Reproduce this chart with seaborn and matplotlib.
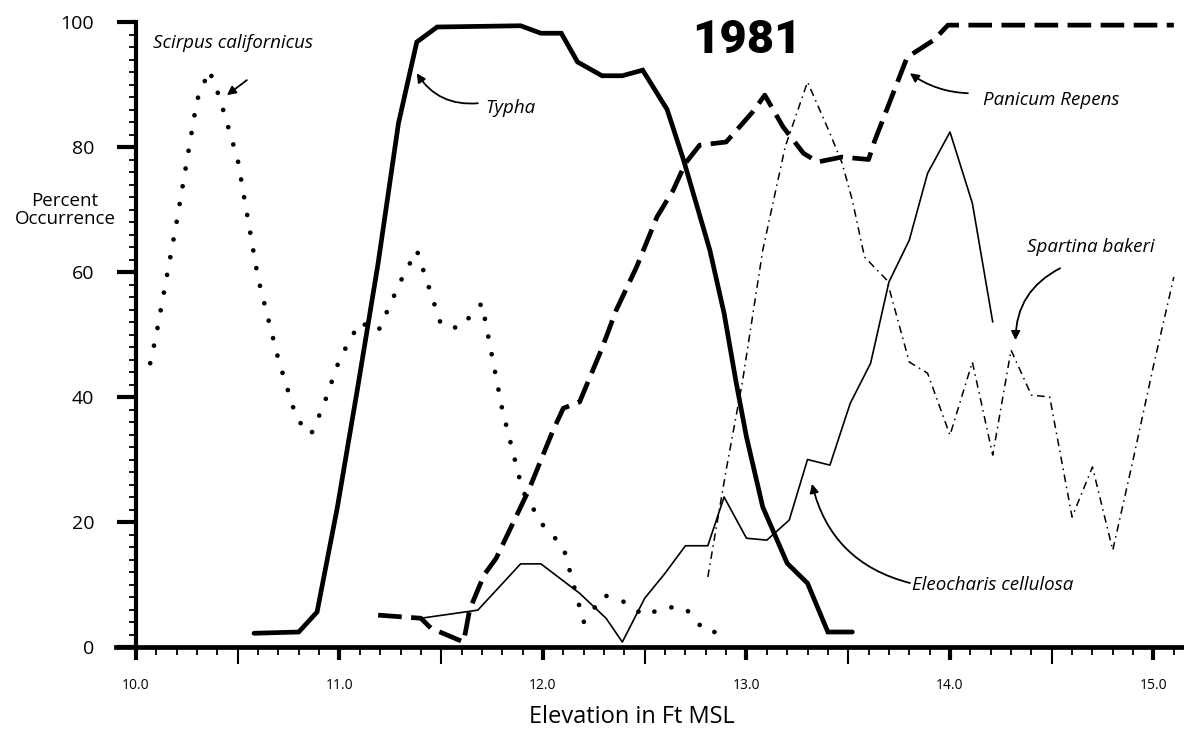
import numpy as np
import matplotlib
matplotlib.use("Agg")
import matplotlib.pyplot as plt
from matplotlib.ticker import FixedLocator, FormatStrFormatter
import seaborn as sns

# ---------------- data ----------------
scirpus_x = [10.07, 10.10, 10.20, 10.30, 10.36, 10.41, 10.50, 10.60, 10.70, 10.79,
             10.86, 10.92, 11.00, 11.10, 11.19, 11.30, 11.38, 11.50, 11.59, 11.70,
             11.80, 11.90, 12.00, 12.10, 12.20, 12.30, 12.40, 12.50, 12.60, 12.70,
             12.80, 12.90]
scirpus_y = [45.4, 50, 68, 87.5, 92.3, 88, 78, 59, 46, 36.5,
             34, 38.5, 46, 52, 50.5, 58.5, 63.5, 51.5, 51, 55,
             38, 25, 19.5, 16, 4, 8.3, 7.2, 5, 6.4, 6.2,
             2.4, 2.4]

typha_x = [10.58, 10.80, 10.89, 10.99, 11.09, 11.19, 11.29, 11.38, 11.48, 11.89,
           11.99, 12.09, 12.17, 12.29, 12.39, 12.49, 12.61, 12.69, 12.82, 12.89,
           12.95, 13.00, 13.08, 13.20, 13.30, 13.40, 13.52]
typha_y = [2.2, 2.4, 5.6, 22.4, 41.6, 61.4, 83.8, 96.8, 99.2, 99.4,
           98.2, 98.2, 93.6, 91.4, 91.4, 92.3, 86, 78, 63.5, 53.4,
           42.2, 33.6, 22.4, 13.4, 10.2, 2.4, 2.4]

panicum_x = [11.19, 11.40, 11.45, 11.61, 11.64, 11.71, 11.77, 11.82, 11.93, 12.05,
             12.10, 12.18, 12.29, 12.36, 12.46, 12.56, 12.64, 12.70, 12.77, 12.90,
             12.96, 13.03, 13.09, 13.18, 13.28, 13.35, 13.47, 13.60, 13.63, 13.79,
             13.82, 13.92, 13.99, 15.10]
panicum_y = [5.1, 4.6, 3.0, 0.8, 6.0, 11.5, 14.2, 17.6, 25.1, 34.7,
             38.2, 39.2, 47.8, 53.9, 60.8, 68.8, 73.1, 77.4, 80.3, 80.8,
             83.0, 85.6, 88.3, 83.2, 79.0, 77.6, 78.4, 78.0, 81.0, 94.4,
             95.0, 97.1, 99.5, 99.5]

eleocharis_x = [11.40, 11.68, 11.89, 11.99, 12.18, 12.31, 12.39, 12.50, 12.60, 12.70,
                12.81, 12.89, 13.00, 13.10, 13.21, 13.30, 13.41, 13.51, 13.61, 13.70,
                13.80, 13.89, 14.00, 14.11, 14.21]
eleocharis_y = [4.6, 5.9, 13.3, 13.3, 8.6, 4.6, 0.8, 7.8, 11.8, 16.2,
                16.2, 24.0, 17.4, 17.1, 20.3, 30.0, 29.1, 39.0, 45.4, 58.4,
                65.1, 75.8, 82.4, 71.0, 52.0]

spartina_x = [12.81, 12.90, 12.98, 13.08, 13.19, 13.30, 13.41, 13.47, 13.52, 13.58,
              13.69, 13.80, 13.89, 14.00, 14.11, 14.21, 14.30, 14.40, 14.49, 14.60,
              14.70, 14.80, 14.90, 15.00, 15.10]
spartina_y = [11.2, 28.3, 42.4, 63.5, 80.0, 90.4, 82.2, 77.4, 71.5, 62.4,
              58.7, 45.6, 43.8, 33.9, 45.6, 30.7, 47.5, 40.3, 40.0, 20.8,
              28.8, 15.5, 30.0, 45.0, 59.2]

x_major = [10.0, 11.0, 12.0, 13.0, 14.0, 15.0]
y_major = [0, 20, 40, 60, 80, 100]
title_text = "1981"
x_label = "Elevation in Ft MSL"
y_label = "Percent\nOccurrence"

# ---------------- figure ----------------
sns.set_style("ticks")
plt.rcParams["font.family"] = ["Open Sans", "DejaVu Sans"]
plt.rcParams.update({"text.color": "black", "axes.labelcolor": "black",
                     "xtick.color": "black", "ytick.color": "black",
                     "axes.edgecolor": "black"})

fig = plt.figure(figsize=(11.84, 7.29), dpi=100)
W, H = 1184, 729
left_px, right_px, top_px, bot_px = 115.6, 1183, 22, 647
ax = fig.add_axes([left_px / W, (H - bot_px) / H,
                   (right_px - left_px) / W, (bot_px - top_px) / H])

sns.lineplot(x=scirpus_x, y=scirpus_y, ax=ax, color="black", lw=3.4,
             linestyle=(0, (0.01, 3.8)), dash_capstyle="round", errorbar=None)
sns.lineplot(x=typha_x, y=typha_y, ax=ax, color="black", lw=3.4,
             errorbar=None, solid_joinstyle="miter")
sns.lineplot(x=panicum_x, y=panicum_y, ax=ax, color="black", lw=3.4,
             linestyle=(0, (5, 2)), dash_capstyle="butt", errorbar=None)
sns.lineplot(x=eleocharis_x, y=eleocharis_y, ax=ax, color="black", lw=1.2,
             errorbar=None)
sns.lineplot(x=spartina_x, y=spartina_y, ax=ax, color="black", lw=1.1,
             linestyle=(0, (5, 3, 1, 3)), errorbar=None)

ax.set_xlim(9.9, 15.145)
ax.set_ylim(0, 100)

# spines
for s in ["top", "right"]:
    ax.spines[s].set_visible(False)
ax.spines["left"].set_position(("data", 10.0))
ax.spines["left"].set_linewidth(3.0)
ax.spines["bottom"].set_linewidth(3.4)

# ticks
ax.set_xticks(x_major)
ax.xaxis.set_major_formatter(FormatStrFormatter("%.1f"))
ax.xaxis.set_minor_locator(FixedLocator([10 + i / 10 for i in range(1, 52) if i % 5 != 0]))
ax.set_yticks(y_major)
ax.yaxis.set_minor_locator(FixedLocator(list(range(2, 100, 2))))
ax.tick_params(axis="x", which="major", direction="out", length=9, width=3,
               labelsize=10, pad=13)
ax.tick_params(axis="x", which="minor", direction="out", length=6, width=1.3)
ax.tick_params(axis="y", which="major", direction="out", length=14, width=3,
               labelsize=14, pad=16)
ax.tick_params(axis="y", which="minor", direction="out", length=5, width=1.3)

sec = ax.secondary_xaxis("bottom")
sec.set_xticks([10.5, 11.5, 12.5, 13.5, 14.5], labels=[])
sec.tick_params(axis="x", direction="out", length=12, width=1.5, color="black")
sec.spines["bottom"].set_visible(False)

# labels
ax.set_xlabel(x_label, fontsize=17)
ax.xaxis.set_label_coords((632 - left_px) / (right_px - left_px), -0.093)
ax.set_ylabel(y_label, rotation=0, fontsize=13.5, ha="center", va="center",
              linespacing=1.0)
ax.yaxis.set_label_coords((65 - left_px) / (right_px - left_px), 0.699)

ax.text(13.0, 97.1, title_text, ha="center", va="center", fontsize=34,
        fontweight="heavy", family=["Liberation Sans Narrow", "Roboto", "DejaVu Sans"])

lab_kw = dict(fontsize=13.5, style="italic", va="center", ha="left")
ax.text(10.084, 96.6, "Scirpus californicus", **lab_kw)
ax.text(11.715, 86.2, "Typha", **lab_kw)
ax.text(14.162, 87.5, "Panicum Repens", **lab_kw)
ax.text(14.378, 64.0, "Spartina bakeri", **lab_kw)
ax.text(13.813, 9.9, "Eleocharis cellulosa", **lab_kw)

def arrow(tail, head, rad):
    ax.annotate("", xy=head, xytext=tail,
                arrowprops=dict(arrowstyle="-|>", color="black", lw=1.3,
                                mutation_scale=13, shrinkA=0, shrinkB=0,
                                connectionstyle=f"arc3,rad={rad}"))

arrow((10.545, 90.7), (10.447, 88.3), 0.0)
arrow((11.68, 87.0), (11.38, 91.8), -0.3)
arrow((14.088, 88.6), (13.803, 91.8), -0.15)
arrow((14.541, 60.6), (14.322, 49.1), 0.3)
arrow((13.803, 10.24), (13.322, 26.1), -0.3)

fig.savefig("out.png", dpi=100)
